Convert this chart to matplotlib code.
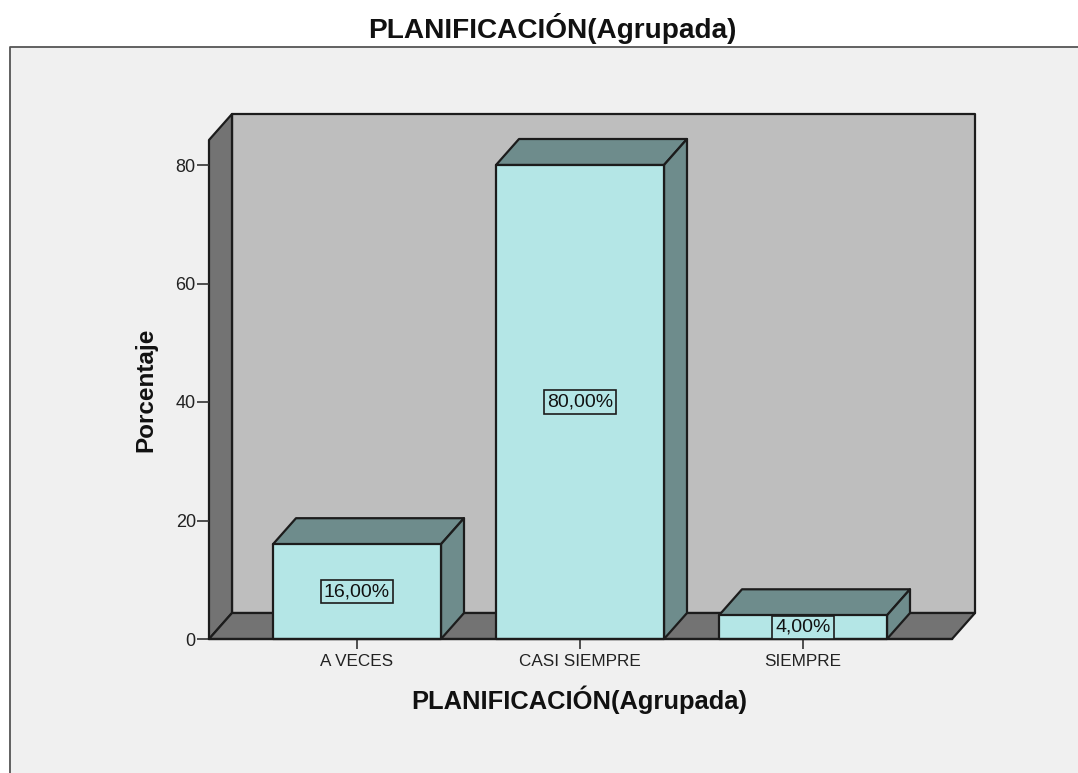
import matplotlib
matplotlib.use("Agg")
import matplotlib.pyplot as plt
from matplotlib.patches import Polygon, Rectangle
from matplotlib.lines import Line2D

plt.rcParams["font.family"] = ["Liberation Sans", "DejaVu Sans"]

# Chart content
title = "PLANIFICACIÓN(Agrupada)"
y_label = "Porcentaje"
categories = ["A VECES", "CASI SIEMPRE", "SIEMPRE"]
percentages = [16.0, 80.0, 4.0]
value_labels = ["16,00%", "80,00%", "4,00%"]
y_ticks = [0, 20, 40, 60, 80]

# Colours
PANEL = "#f0f0f0"
WALL = "#bebebe"
SIDE = "#737373"
FRONT = "#b4e6e6"
SHADE = "#6e8c8c"
INK = "#1c1c1c"

W, H = 1078, 773
fig = plt.figure(figsize=(W / 100, H / 100), dpi=100, facecolor="white")

# Outer panel, open on the right and bottom edges
fig.add_artist(Rectangle((9 / W, 0), 1 - 9 / W, 1 - 47 / H, transform=fig.transFigure,
                         facecolor=PANEL, edgecolor="none", zorder=-2))
fig.add_artist(Line2D([9.5 / W, 9.5 / W, 1], [0, 1 - 46.5 / H, 1 - 46.5 / H],
                      transform=fig.transFigure, color="#555555", lw=1.3, zorder=-1))

# Axes frame set so one category step spans 223 px and 80 % spans 474 px
left, right, bottom, top = 209, 952, 639, 140
ax = fig.add_axes([left / W, 1 - bottom / H, (right - left) / W, (bottom - top) / H])
ax.set_xlim((left - 357) / 223, (right - 357) / 223)
ax.set_ylim(0, (bottom - top) / (474 / 80))
ax.patch.set_visible(False)
for s in ax.spines.values():
    s.set_visible(False)

x0, x1 = ax.get_xlim()
y0, y1 = ax.get_ylim()
dx = 23 / 223   # depth offset, horizontal
dy = 26 / (474 / 80)   # depth offset, vertical
half = 84 / 223   # half bar width
edge = dict(edgecolor=INK, linewidth=1.6, joinstyle="round", clip_on=False)

# Back wall, side wall and floor of the 3D box
ax.add_patch(Polygon([(x0 + dx, y0 + dy), (x1 + dx, y0 + dy), (x1 + dx, y1 + dy), (x0 + dx, y1 + dy)],
                     facecolor=WALL, zorder=1, **edge))
ax.add_patch(Polygon([(x0, y0), (x0 + dx, y0 + dy), (x0 + dx, y1 + dy), (x0, y1)],
                     facecolor=SIDE, zorder=1, **edge))
ax.add_patch(Polygon([(x0, y0), (x1, y0), (x1 + dx, y0 + dy), (x0 + dx, y0 + dy)],
                     facecolor=SIDE, zorder=1, **edge))

# Bars with top and side faces, plus boxed value labels
for i, (v, lab) in enumerate(zip(percentages, value_labels)):
    a, b = i - half, i + half
    ax.add_patch(Polygon([(a, v), (b, v), (b + dx, v + dy), (a + dx, v + dy)],
                         facecolor=SHADE, zorder=3, **edge))
    ax.add_patch(Polygon([(b, 0), (b + dx, dy), (b + dx, v + dy), (b, v)],
                         facecolor=SHADE, zorder=3, **edge))
    ax.add_patch(Rectangle((a, 0), b - a, v, facecolor=FRONT, zorder=4, **edge))
    ax.text(i, v / 2, lab, ha="center", va="center", fontsize=14, color="#111111", zorder=6,
            bbox=dict(boxstyle="square,pad=0.16", facecolor=FRONT, edgecolor=INK, linewidth=1.2))

# Baseline
ax.plot([x0, x1], [0, 0], color=INK, lw=1.6, zorder=5, clip_on=False)

ax.set_xticks(range(len(categories)), categories)
ax.set_yticks(y_ticks)
ax.tick_params(axis="y", length=8.5, width=1.2, color="#333333", labelsize=13, labelcolor="#222222", pad=1)
ax.tick_params(axis="x", length=7.5, width=1.2, color="#333333", labelsize=12.3, labelcolor="#222222", pad=3)

fig.text(552 / W, 1 - 28 / H, title, ha="center", va="center", fontsize=20.2, fontweight="bold", color="#111111")
fig.text(579 / W, 1 - 700 / H, title, ha="center", va="center", fontsize=18.4, fontweight="bold", color="#111111")
fig.text(146 / W, 1 - 390 / H, y_label, ha="center", va="center", rotation=90, fontsize=17.5, fontweight="bold", color="#111111")

fig.savefig("out.png", dpi=100)
